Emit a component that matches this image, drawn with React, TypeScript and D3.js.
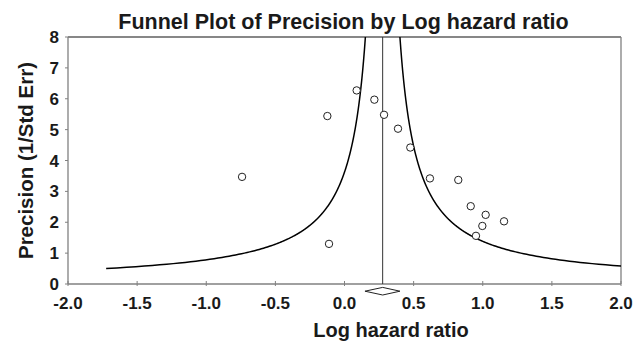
import * as d3 from 'd3';

// ─── Data ───────────────────────────────────────────────────

const logHazardRatio = [0.088, 0.216, -0.124, 0.286, 0.387, 0.476, -0.741, 0.618, -0.112, 0.823, 0.913, 1.021, 0.997, 1.154, 0.951];
const precision = [6.27, 5.97, 5.44, 5.48, 5.03, 4.42, 3.47, 3.42, 1.3, 3.37, 2.52, 2.24, 1.88, 2.03, 1.56];

const xTicks = [-2.0, -1.5, -1.0, -0.5, 0.0, 0.5, 1.0, 1.5, 2.0];
const yTicks = [0, 1, 2, 3, 4, 5, 6, 7, 8];

// summary estimate + its confidence interval (diamond)
const summary = { est: 0.276, lo: 0.148, hi: 0.401 };
const funnelWidth = 1.0; // half-width in log HR at precision 1
const funnelMinPrecision = 0.5;

// ─── Layout ─────────────────────────────────────────────────

const W = 644;
const H = 341;
const PLOT = { left: 68, right: 621, top: 37, bottom: 284 };
const FONT = '"Liberation Sans", Arial, sans-serif';
const INK = '#1a1a1a';

export default function App() {
  const x = d3.scaleLinear().domain([-2, 2]).range([PLOT.left, PLOT.right]);
  const y = d3.scaleLinear().domain([0, 8]).range([PLOT.bottom, PLOT.top]);

  const precSteps = d3.range(funnelMinPrecision, 12, 0.02);
  const line = d3.line<number[]>().x((d) => x(d[0])).y((d) => y(d[1]));
  const leftCurve = line(precSteps.map((p) => [summary.est - funnelWidth / p, p]));
  const rightCurve = line(precSteps.map((p) => [summary.est + funnelWidth / p, p]));

  const dy = 291.2;
  const dh = 3.8;
  const diamond = `M${x(summary.lo)},${dy} L${x(summary.est)},${dy - dh} L${x(summary.hi)},${dy} L${x(summary.est)},${dy + dh} Z`;

  const axisGray = '#808080';

  return (
    <svg width={W} height={H} style={{ position: 'absolute', left: 0, top: 0, background: '#fff' }} fontFamily={FONT}>
      <defs>
        <clipPath id="plot-clip">
          <rect x={PLOT.left} y={PLOT.top} width={PLOT.right - PLOT.left} height={PLOT.bottom - PLOT.top} />
        </clipPath>
      </defs>

      <text x={343.5} y={29} textAnchor="middle" fontSize={21.5} fontWeight="bold" fill={INK}>
        Funnel Plot of Precision by Log hazard ratio
      </text>

      {/* frame */}
      <line x1={PLOT.left} x2={PLOT.right} y1={PLOT.top} y2={PLOT.top} stroke="#111" strokeWidth={1.2} />
      <line x1={PLOT.left} x2={PLOT.left} y1={PLOT.top} y2={PLOT.bottom} stroke={axisGray} strokeWidth={1.3} />
      <line x1={PLOT.right} x2={PLOT.right} y1={PLOT.top} y2={PLOT.bottom} stroke={axisGray} strokeWidth={1.3} />
      <line x1={PLOT.left} x2={PLOT.right} y1={PLOT.bottom} y2={PLOT.bottom} stroke={axisGray} strokeWidth={1.3} />

      {/* y axis */}
      {yTicks.map((t) => (
        <g key={`y${t}`}>
          <line x1={PLOT.left - 3} x2={PLOT.left} y1={y(t)} y2={y(t)} stroke={axisGray} />
          <text x={59} y={y(t)} dy="0.36em" textAnchor="end" fontSize={17} fontWeight="bold" fill={INK}>
            {t}
          </text>
        </g>
      ))}

      {/* x axis */}
      {xTicks.map((t) => (
        <g key={`x${t}`}>
          <line x1={x(t)} x2={x(t)} y1={PLOT.bottom - 3} y2={PLOT.bottom + 2} stroke={axisGray} />
          <text x={x(t)} y={308.5} textAnchor="middle" fontSize={17} fontWeight="bold" fill={INK}>
            {t.toFixed(1)}
          </text>
        </g>
      ))}

      <text x={391} y={337} textAnchor="middle" fontSize={20} fontWeight="bold" fill={INK}>
        Log hazard ratio
      </text>
      <text transform={`translate(33,160.5) rotate(-90)`} textAnchor="middle" fontSize={20.5} fontWeight="bold" fill={INK}>
        Precision (1/Std Err)
      </text>

      <g clipPath="url(#plot-clip)">
        <path d={leftCurve ?? ''} fill="none" stroke="#000" strokeWidth={1.5} />
        <path d={rightCurve ?? ''} fill="none" stroke="#000" strokeWidth={1.5} />
      </g>

      <line x1={x(summary.est)} x2={x(summary.est)} y1={PLOT.top} y2={PLOT.bottom} stroke="#333" strokeWidth={1} />

      {logHazardRatio.map((v, i) => (
        <circle key={i} cx={x(v)} cy={y(precision[i])} r={3.7} fill="#fff" stroke="#222" strokeWidth={1} />
      ))}

      <path d={diamond} fill="#fff" stroke="#222" strokeWidth={1} />
    </svg>
  );
}
